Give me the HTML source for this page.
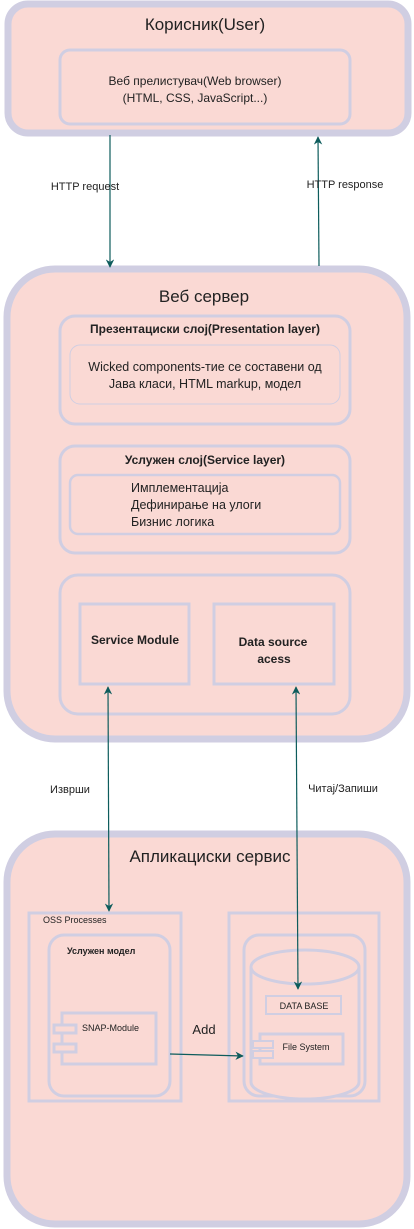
<!DOCTYPE html>
<html><head><meta charset="utf-8"><style>html,body{margin:0;padding:0;background:#fff}svg{display:block}text{font-family:"Liberation Sans","DejaVu Sans",sans-serif;fill:#222}</style></head>
<body>
<svg width="414" height="1229" viewBox="0 0 414 1229" xmlns="http://www.w3.org/2000/svg">
<defs><marker id="a" viewBox="0 0 10 10" refX="9" refY="5" markerWidth="7" markerHeight="7" orient="auto-start-reverse"><path d="M0,0 L10,5 L0,10 L3,5 z" fill="#0d5c5c"/></marker></defs>
<g fill="#fad9d4" stroke="#d0cee2">
<rect x="8" y="4" width="400" height="129" rx="20" stroke-width="7"/>
<rect x="60" y="50" width="290" height="74" rx="10" stroke-width="3"/>
<rect x="7" y="269" width="400" height="470" rx="48" stroke-width="7"/>
<rect x="60" y="316" width="290" height="108" rx="15" stroke-width="3"/>
<rect x="70" y="345" width="270" height="59" rx="10" stroke-width="1"/>
<rect x="60" y="446" width="290" height="107" rx="15" stroke-width="3"/>
<rect x="70" y="475" width="270" height="59" rx="8" stroke-width="2.5"/>
<rect x="60" y="575" width="290" height="139" rx="18" stroke-width="3"/>
<rect x="80" y="604" width="109" height="80" stroke-width="3"/>
<rect x="214" y="604" width="120" height="80" stroke-width="3"/>
<rect x="7" y="834" width="400" height="390" rx="48" stroke-width="7"/>
<rect x="29" y="913" width="152" height="188" stroke-width="3"/>
<rect x="49" y="935" width="121" height="161" rx="15" stroke-width="3"/>
<rect x="62" y="1013" width="94" height="51" stroke-width="3"/>
<rect x="54" y="1025" width="22" height="8" stroke-width="3"/>
<rect x="54" y="1044" width="22" height="8" stroke-width="3"/>
<rect x="229" y="913" width="150" height="188" stroke-width="3"/>
<rect x="244" y="935" width="121" height="161" rx="15" stroke-width="3"/>
<path d="M251,967 L251,1082 A54,17 0 0 0 359,1082 L359,967 A54,17 0 0 0 251,967 A54,17 0 0 0 359,967" stroke-width="3"/>
<rect x="266" y="996" width="75" height="18" stroke-width="2"/>
<rect x="260" y="1034" width="83" height="30" stroke-width="3"/>
<rect x="253" y="1041" width="20" height="7" stroke-width="2"/>
<rect x="253" y="1051" width="20" height="7" stroke-width="2"/>
</g>
<g stroke="#0d5c5c" stroke-width="1.2" fill="none">
<line x1="110" y1="135" x2="110" y2="267" marker-end="url(#a)"/>
<line x1="319" y1="266" x2="318" y2="137" marker-end="url(#a)"/>
<line x1="108" y1="687" x2="109" y2="911" marker-start="url(#a)" marker-end="url(#a)"/>
<line x1="296" y1="687" x2="298" y2="989" marker-start="url(#a)" marker-end="url(#a)"/>
<line x1="170" y1="1054" x2="243" y2="1056" marker-end="url(#a)"/>
</g>
<text x="205" y="30" font-size="17" text-anchor="middle" fill="#333">Корисник(User)</text>
<text x="195" y="85" font-size="12" text-anchor="middle">Веб прелистувач(Web browser)</text>
<text x="195" y="102" font-size="12" text-anchor="middle">(HTML, CSS, JavaScript...)</text>
<text x="85" y="190" font-size="11" text-anchor="middle" fill="#333">HTTP request</text>
<text x="345" y="188" font-size="11" text-anchor="middle" fill="#333">HTTP response</text>
<text x="204" y="302" font-size="17" text-anchor="middle" fill="#333">Веб сервер</text>
<text x="205" y="333" font-size="12" font-weight="bold" text-anchor="middle">Презентациски слој(Presentation layer)</text>
<text x="205" y="371" font-size="12.5" text-anchor="middle" fill="#333">Wicked components-тие се составени од</text>
<text x="205" y="388" font-size="12.5" text-anchor="middle" fill="#333">Јава класи, HTML markup, модел</text>
<text x="205" y="464" font-size="12" font-weight="bold" text-anchor="middle">Услужен слој(Service layer)</text>
<text x="131" y="492" font-size="12.5" fill="#333">Имплементација</text>
<text x="131" y="509" font-size="12.5" fill="#333">Дефинирање на улоги</text>
<text x="131" y="526" font-size="12.5" fill="#333">Бизнис логика</text>
<text x="135" y="644" font-size="12" font-weight="bold" text-anchor="middle">Service Module</text>
<text x="273" y="646" font-size="12" font-weight="bold" text-anchor="middle">Data source</text>
<text x="274" y="663" font-size="12" font-weight="bold" text-anchor="middle">acess</text>
<text x="70" y="793" font-size="11" text-anchor="middle" fill="#333">Изврши</text>
<text x="343" y="792" font-size="11" text-anchor="middle" fill="#333">Читај/Запиши</text>
<text x="210" y="862" font-size="17" text-anchor="middle" fill="#333">Апликациски сервис</text>
<text x="43" y="923" font-size="9">OSS Processes</text>
<text x="67" y="954" font-size="9" font-weight="bold">Услужен модел</text>
<text x="82" y="1031" font-size="9">SNAP-Module</text>
<text x="204" y="1034" font-size="13" text-anchor="middle" fill="#333">Add</text>
<text x="304" y="1009" font-size="9" text-anchor="middle">DATA BASE</text>
<text x="306" y="1050" font-size="9" text-anchor="middle">File System</text>
</svg>
</body></html>
